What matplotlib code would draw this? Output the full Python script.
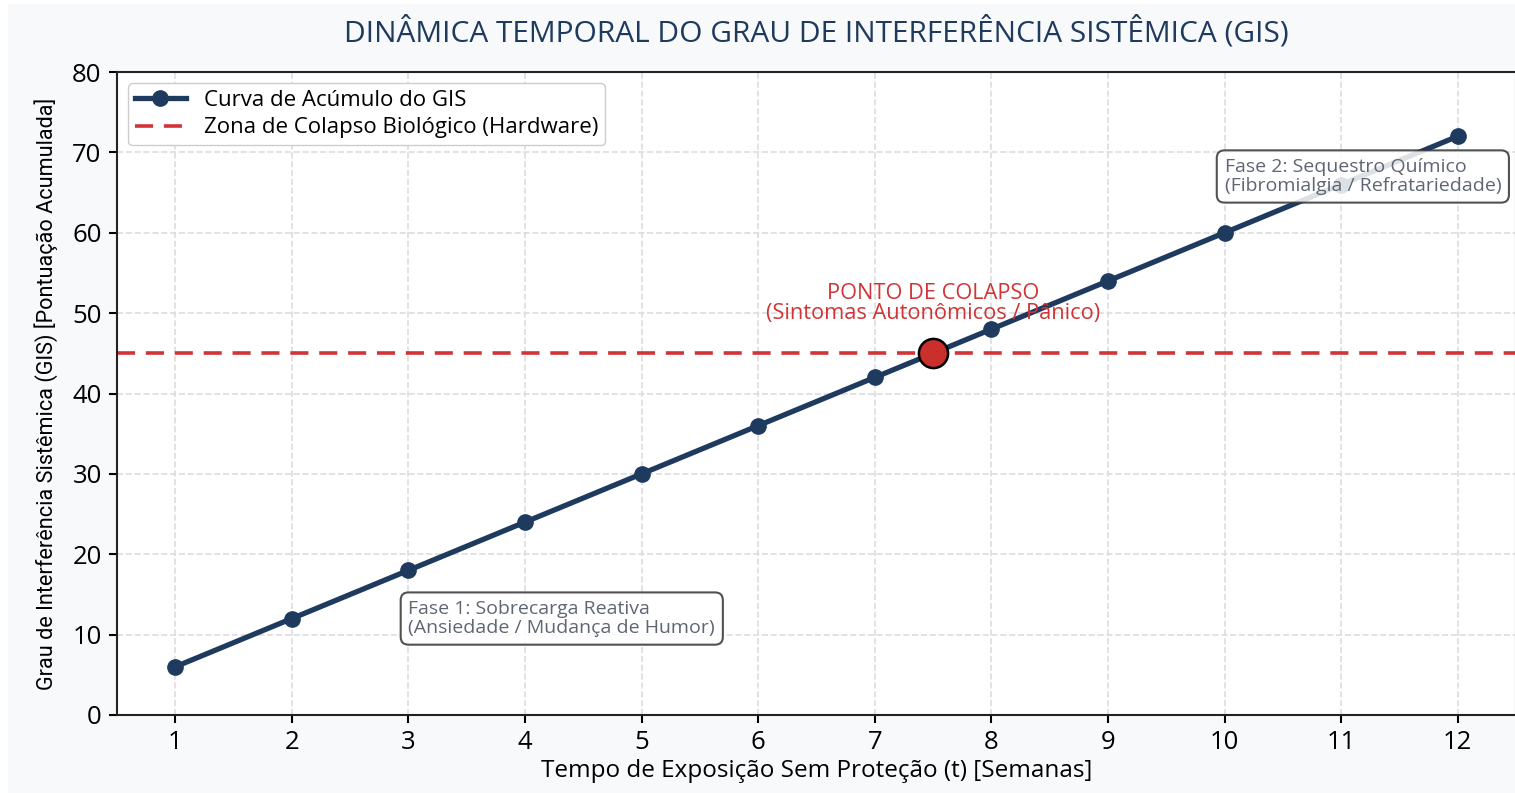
import matplotlib.pyplot as plt
from matplotlib.patches import Rectangle

# data
semanas = [1, 2, 3, 4, 5, 6, 7, 8, 9, 10, 11, 12]
gis = [6, 12, 18, 24, 30, 36, 42, 48, 54, 60, 66, 72]
limiar = 45
colapso_t = 7.5

navy = '#1f3a5f'
red = '#d03436'
gray_txt = '#5f6673'

plt.rcParams['font.family'] = ['Open Sans', 'DejaVu Sans']

fig = plt.figure(figsize=(15.15, 7.93), dpi=100, facecolor='white')
fig.patches.append(Rectangle((8 / 1515, 0), 1, 1 - 4 / 793, transform=fig.transFigure,
                             facecolor='#f8f9fa', edgecolor='none', zorder=-1))
ax = fig.add_axes([117 / 1515, 78 / 793, 1399 / 1515, 643 / 793])
ax.set_facecolor('white')

ax.plot(semanas, gis, '-o', color=navy, lw=3.8, ms=11, zorder=3,
        label='Curva de Acúmulo do GIS')
ax.axhline(limiar, color=red, ls=(0, (5, 3)), lw=2.6, zorder=2,
           label='Zona de Colapso Biológico (Hardware)')
ax.plot([colapso_t], [limiar], 'o', ms=21, color='#c9302c', mec='black', mew=1.8, zorder=5)

ax.text(colapso_t, 51.2, 'PONTO DE COLAPSO\n(Sintomas Autonômicos / Pânico)',
        color=red, fontsize=15.7, ha='center', va='center', linespacing=0.95, zorder=4)

bbox = dict(boxstyle='round,pad=0.4', facecolor='white', edgecolor='#333333', lw=1.5, alpha=0.85)
ax.text(3.0, 12, 'Fase 1: Sobrecarga Reativa\n(Ansiedade / Mudança de Humor)',
        color=gray_txt, fontsize=14, ha='left', va='center', linespacing=1.05, bbox=bbox, zorder=6)
ax.text(10.0, 67, 'Fase 2: Sequestro Químico\n(Fibromialgia / Refratariedade)',
        color=gray_txt, fontsize=14, ha='left', va='center', linespacing=1.05, bbox=bbox, zorder=6)

ax.set_xlim(0.5, 12.5)
ax.set_ylim(0, 80)
ax.set_xticks(semanas)
ax.set_yticks(range(0, 81, 10))
ax.tick_params(labelsize=18.5, length=6, width=1.5, pad=5)
ax.grid(True, ls='--', color='#dddddd', lw=1.2)
ax.set_axisbelow(True)
for s in ax.spines.values():
    s.set_color('#222222')
    s.set_linewidth(1.5)

ax.set_xlabel('Tempo de Exposição Sem Proteção (t) [Semanas]', fontsize=17.5, labelpad=3)
ax.set_ylabel('Grau de Interferência Sistêmica (GIS) [Pontuação Acumulada]',
              fontsize=15.6, family=['Roboto', 'DejaVu Sans'], labelpad=10)
fig.text(816 / 1515, 1 - 32 / 793, 'DINÂMICA TEMPORAL DO GRAU DE INTERFERÊNCIA SISTÊMICA (GIS)',
         color=navy, fontsize=21.5, ha='center', va='center')

ax.legend(loc='upper left', fontsize=16, frameon=True, facecolor='white', edgecolor='#cccccc',
          framealpha=1, handlelength=2.3, borderpad=0.3, labelspacing=0.3)

fig.savefig('out.png', dpi=100, facecolor=fig.get_facecolor())
